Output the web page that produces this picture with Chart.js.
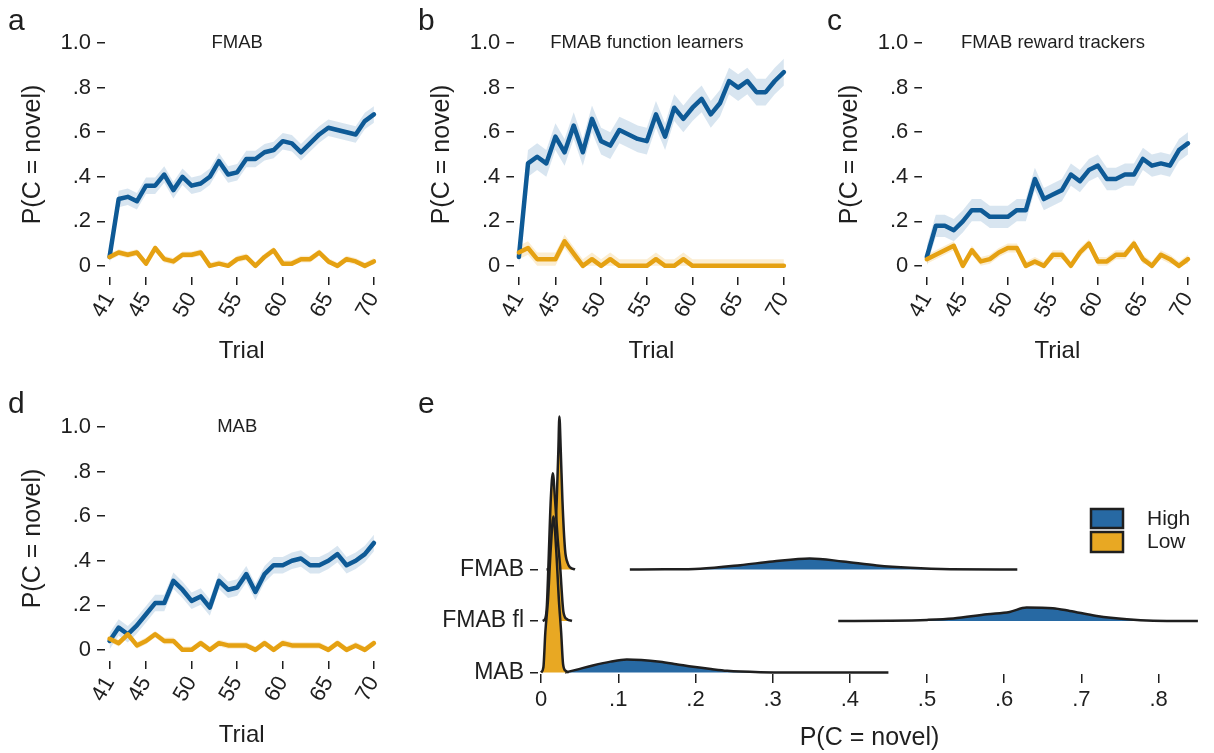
<!DOCTYPE html>
<html>
<head>
<meta charset="utf-8">
<script src="https://cdn.jsdelivr.net/npm/chart.js@4.4.1/dist/chart.umd.min.js"></script>
<style>
  html, body { margin: 0; padding: 0; background: #fff; }
  body { width: 1214px; height: 753px; position: relative; overflow: hidden; }
  canvas { position: absolute; }
</style>
</head>
<body>
<canvas id="chartA" width="400" height="370" style="left:0;top:0"></canvas>
<canvas id="chartB" width="410" height="370" style="left:400px;top:0"></canvas>
<canvas id="chartC" width="404" height="370" style="left:810px;top:0"></canvas>
<canvas id="chartD" width="400" height="373" style="left:0;top:380px"></canvas>
<canvas id="chartE" width="804" height="373" style="left:410px;top:380px"></canvas>
<script>
// dados
const trials = [41, 42, 43, 44, 45, 46, 47, 48, 49, 50, 51, 52, 53, 54, 55,
                56, 57, 58, 59, 60, 61, 62, 63, 64, 65, 66, 67, 68, 69, 70];
const xTicks = [41, 45, 50, 55, 60, 65, 70];
const yTicks = [0, 0.2, 0.4, 0.6, 0.8, 1.0];
const yTickLabels = ['0', '.2', '.4', '.6', '.8', '1.0'];

// a: FMAB
const fmabHigh = [0.04, 0.30, 0.31, 0.29, 0.36, 0.36, 0.41, 0.34, 0.40, 0.36, 0.37, 0.40, 0.47, 0.41, 0.42,
                  0.48, 0.48, 0.51, 0.52, 0.56, 0.55, 0.51, 0.55, 0.59, 0.62, 0.61, 0.60, 0.59, 0.65, 0.68];
const fmabLow = [0.04, 0.06, 0.05, 0.06, 0.01, 0.08, 0.03, 0.02, 0.05, 0.05, 0.06, 0.00, 0.01, 0.00, 0.03,
                 0.04, 0.00, 0.04, 0.07, 0.01, 0.01, 0.03, 0.03, 0.06, 0.02, 0.00, 0.03, 0.02, 0.00, 0.02];
// b: FMAB function learners
const fflHigh = [0.04, 0.46, 0.49, 0.46, 0.58, 0.51, 0.63, 0.51, 0.66, 0.56, 0.54, 0.61, 0.59, 0.57, 0.56,
                 0.68, 0.58, 0.71, 0.66, 0.71, 0.75, 0.68, 0.73, 0.83, 0.80, 0.83, 0.78, 0.78, 0.83, 0.87];
const fflLow = [0.06, 0.08, 0.03, 0.03, 0.03, 0.11, 0.055, 0.00, 0.03, 0.00, 0.03, 0.00, 0.00, 0.00, 0.00,
                0.03, 0.00, 0.00, 0.03, 0.00, 0.00, 0.00, 0.00, 0.00, 0.00, 0.00, 0.00, 0.00, 0.00, 0.00];
// c: FMAB reward trackers
const rtHigh = [0.04, 0.18, 0.18, 0.16, 0.20, 0.25, 0.25, 0.22, 0.22, 0.22, 0.25, 0.25, 0.39, 0.30, 0.32,
                0.34, 0.41, 0.38, 0.43, 0.45, 0.39, 0.39, 0.41, 0.41, 0.48, 0.45, 0.46, 0.45, 0.52, 0.55];
const rtLow = [0.03, 0.05, 0.07, 0.09, 0.00, 0.07, 0.02, 0.03, 0.06, 0.08, 0.08, 0.00, 0.02, 0.00, 0.05,
               0.05, 0.00, 0.06, 0.10, 0.02, 0.02, 0.05, 0.05, 0.10, 0.03, 0.00, 0.05, 0.03, 0.00, 0.03];
// d: MAB
const mabHigh = [0.04, 0.10, 0.07, 0.11, 0.16, 0.21, 0.21, 0.31, 0.27, 0.22, 0.24, 0.19, 0.31, 0.27, 0.28,
                 0.34, 0.26, 0.34, 0.38, 0.38, 0.40, 0.41, 0.38, 0.38, 0.40, 0.43, 0.38, 0.40, 0.43, 0.48];
const mabLow = [0.05, 0.03, 0.07, 0.02, 0.04, 0.07, 0.04, 0.04, 0.00, 0.00, 0.03, 0.00, 0.03, 0.02, 0.02,
                0.02, 0.00, 0.03, 0.00, 0.03, 0.02, 0.02, 0.02, 0.02, 0.00, 0.03, 0.00, 0.02, 0.00, 0.03];

// meia largura da faixa de erro, por painel
const fmabHighCI = 0.037, fmabLowCI = 0.015;
const fflHighCI = 0.06, fflLowCI = 0.03;
const rtHighCI = 0.05, rtLowCI = 0.02;
const mabHighCI = 0.037, mabLowCI = 0.015;

// e: densidades (x = P(C = novel), altura relativa a linha)
const ridgeRows = [0, 1, 2];
const ridgeLabels = ['MAB', 'FMAB fl', 'FMAB'];
const eTicks = [0, 0.1, 0.2, 0.3, 0.4, 0.5, 0.6, 0.7, 0.8];
const eTickLabels = ['0', '.1', '.2', '.3', '.4', '.5', '.6', '.7', '.8'];

const fmabHighX = [0.115, 0.16, 0.206, 0.258, 0.300, 0.348, 0.391, 0.435, 0.478, 0.530, 0.617];
const fmabHighH = [0, 0.002, 0.014, 0.083, 0.155, 0.214, 0.155, 0.078, 0.033, 0.006, 0];
const fmabLowX = [0.007, 0.014, 0.017, 0.0203, 0.0224, 0.0237, 0.0255, 0.0276, 0.031, 0.0345, 0.0376, 0.044];
const fmabLowH = [0, 0.03, 0.3, 1.36, 2.33, 2.97, 2.3, 1.36, 0.39, 0.12, 0.04, 0];
const fflHighX = [0.385, 0.45, 0.50, 0.534, 0.578, 0.607, 0.629, 0.663, 0.685, 0.72, 0.759, 0.793, 0.851];
const fflHighH = [0, 0.005, 0.02, 0.047, 0.13, 0.175, 0.26, 0.247, 0.194, 0.097, 0.033, 0.006, 0];
const fflLowX = [0.002, 0.0055, 0.0075, 0.0095, 0.0126, 0.0152, 0.018, 0.0215, 0.0246, 0.029, 0.034, 0.040];
const fflLowH = [0, 0.05, 0.3, 1.07, 2.37, 2.87, 2.37, 1.6, 1.07, 0.17, 0.03, 0];
const mabHighX = [0.031, 0.045, 0.067, 0.09, 0.111, 0.13, 0.154, 0.175, 0.197, 0.22, 0.241, 0.284, 0.33, 0.45];
const mabHighH = [0, 0.05, 0.136, 0.21, 0.25, 0.24, 0.206, 0.16, 0.109, 0.065, 0.031, 0.006, 0.001, 0];
const mabLowX = [0.000, 0.003, 0.0055, 0.009, 0.0125, 0.016, 0.0195, 0.023, 0.026, 0.0285, 0.032, 0.036];
const mabLowH = [0, 0.1, 0.78, 1.42, 2.4, 3.03, 2.4, 1.42, 0.78, 0.16, 0.03, 0];

// estilos
const FONT = "'Liberation Sans', Arial, Helvetica, sans-serif";
const INK = '#1f1f1f';
const BLUE = '#0e5a96';
const YELLOW = '#e5a112';
const BLUE_BAND = 'rgba(40,110,170,0.18)';
const YELLOW_BAND = 'rgba(235,165,25,0.2)';
const BLUE_FILL = '#2769a3';
const YELLOW_FILL = '#e8a823';

// letra do painel + titulo dentro do grafico
const panelText = {
    id: 'panelText',
    afterDraw(chart, args, opts) {
        const ctx = chart.ctx;
        ctx.save();
        ctx.fillStyle = INK;
        ctx.font = `30px ${FONT}`;
        ctx.textAlign = 'left';
        ctx.textBaseline = 'alphabetic';
        ctx.fillText(opts.letter, opts.letterX, opts.letterY);
        if (opts.title) {
            const a = chart.chartArea;
            ctx.font = `18.5px ${FONT}`;
            ctx.textAlign = 'center';
            ctx.textBaseline = 'middle';
            ctx.fillText(opts.title, (a.left + a.right) / 2 - 4.5, chart.scales.y.getPixelForValue(1.0));
        }
        ctx.restore();
    }
};

function trendPanel(id, box, letter, title, high, low, highCI, lowCI) {
    const pts = (arr, d) => arr.map((v, i) => ({ x: trials[i], y: Math.max(0, v + d) }));
    new Chart(document.getElementById(id), {
        type: 'line',
        data: {
            datasets: [
                { label: 'Low', data: pts(low, 0), borderColor: YELLOW, borderWidth: 4.5, order: 0 },
                { label: 'High', data: pts(high, 0), borderColor: BLUE, borderWidth: 4.5, order: 1 },
                { data: pts(high, -highCI), borderWidth: 0, order: 2 },
                { data: pts(high, highCI), borderWidth: 0, order: 2, fill: '-1', backgroundColor: BLUE_BAND },
                { data: pts(low, -lowCI), borderWidth: 0, order: 3 },
                { data: pts(low, lowCI), borderWidth: 0, order: 3, fill: '-1', backgroundColor: YELLOW_BAND }
            ]
        },
        options: {
            responsive: false,
            animation: false,
            layout: { padding: { left: 0, right: box.right, top: box.top, bottom: 0 } },
            elements: {
                point: { radius: 0 },
                line: { tension: 0, borderJoinStyle: 'round', borderCapStyle: 'round', fill: false }
            },
            plugins: {
                legend: { display: false },
                tooltip: { enabled: false },
                panelText: { letter, title, letterX: box.lx, letterY: box.ly }
            },
            scales: {
                x: {
                    type: 'linear', min: 40.5, max: 70.5,
                    afterBuildTicks: s => { s.ticks = xTicks.map(v => ({ value: v })); },
                    afterFit: s => { s.height = box.xh; },
                    grid: { drawOnChartArea: false, drawTicks: true, tickLength: 8, color: INK, lineWidth: 1.5 },
                    border: { display: false },
                    ticks: { autoSkip: false, minRotation: 60, maxRotation: 60, padding: 3, color: INK,
                             font: { family: FONT, size: 22 } },
                    title: { display: true, text: 'Trial', color: INK, font: { family: FONT, size: 24 },
                             padding: { top: 0, bottom: box.tb } }
                },
                y: {
                    min: -0.05, max: 1.05,
                    afterBuildTicks: s => { s.ticks = yTicks.map(v => ({ value: v })); },
                    afterFit: s => { s.width = box.yw; },
                    grid: { drawOnChartArea: false, drawTicks: true, tickLength: 8, color: INK, lineWidth: 1.5 },
                    border: { display: false },
                    ticks: { padding: 6, color: INK, font: { family: FONT, size: 22 },
                             callback: v => yTickLabels[yTicks.indexOf(v)] },
                    title: { display: true, text: 'P(C = novel)', color: INK, font: { family: FONT, size: 25 },
                             padding: { top: box.tp, bottom: 0 } }
                }
            }
        },
        plugins: [panelText]
    });
}

trendPanel('chartA', { yw: 105, right: 13, top: 32, xh: 93, tb: 4, tp: 18, lx: 8, ly: 30 },
    'a', 'FMAB', fmabHigh, fmabLow, fmabHighCI, fmabLowCI);
trendPanel('chartB', { yw: 114.3, right: 15.3, top: 32, xh: 93, tb: 4, tp: 27, lx: 18, ly: 30 },
    'b', 'FMAB function learners', fflHigh, fflLow, fflHighCI, fflLowCI);
trendPanel('chartC', { yw: 112.3, right: 10.3, top: 32, xh: 93, tb: 4, tp: 25, lx: 17, ly: 30 },
    'c', 'FMAB reward trackers', rtHigh, rtLow, rtHighCI, rtLowCI);
trendPanel('chartD', { yw: 105, right: 13, top: 36, xh: 92, tb: 3, tp: 18, lx: 8, ly: 33 },
    'd', 'MAB', mabHigh, mabLow, mabHighCI, mabLowCI);

// painel e: ridgeline
const ridgeLegend = {
    id: 'ridgeLegend',
    afterDraw(chart) {
        const ctx = chart.ctx;
        ctx.save();
        ctx.lineWidth = 2.5;
        ctx.strokeStyle = INK;
        ctx.fillStyle = BLUE_FILL;
        ctx.fillRect(681, 129, 32, 19);
        ctx.strokeRect(681, 129, 32, 19);
        ctx.fillStyle = YELLOW_FILL;
        ctx.fillRect(681, 152, 32, 20);
        ctx.strokeRect(681, 152, 32, 20);
        ctx.fillStyle = INK;
        ctx.font = `21px ${FONT}`;
        ctx.textAlign = 'left';
        ctx.textBaseline = 'middle';
        ctx.fillText('High', 737, 139);
        ctx.fillText('Low', 737, 162);
        ctx.restore();
    }
};

function ridge(xs, hs, row, color, order) {
    return {
        data: xs.map((x, i) => ({ x, y: row + hs[i] })),
        fill: { value: row },
        backgroundColor: color,
        borderColor: INK,
        borderWidth: 2.5,
        cubicInterpolationMode: 'monotone',
        clip: false,
        order
    };
}

new Chart(document.getElementById('chartE'), {
    type: 'line',
    data: {
        datasets: [
            ridge(mabLowX, mabLowH, ridgeRows[0], YELLOW_FILL, 1),
            ridge(mabHighX, mabHighH, ridgeRows[0], BLUE_FILL, 1),
            ridge(fflLowX, fflLowH, ridgeRows[1], YELLOW_FILL, 2),
            ridge(fflHighX, fflHighH, ridgeRows[1], BLUE_FILL, 2),
            ridge(fmabLowX, fmabLowH, ridgeRows[2], YELLOW_FILL, 3),
            ridge(fmabHighX, fmabHighH, ridgeRows[2], BLUE_FILL, 3)
        ]
    },
    options: {
        responsive: false,
        animation: false,
        layout: { padding: { left: 0, right: 13, top: 20, bottom: 0 } },
        elements: { point: { radius: 0 }, line: { borderJoinStyle: 'round' } },
        plugins: {
            legend: { display: false },
            tooltip: { enabled: false },
            panelText: { letter: 'e', title: null, letterX: 8, letterY: 33 }
        },
        scales: {
            x: {
                type: 'linear', min: -0.004, max: 0.855,
                afterBuildTicks: s => { s.ticks = eTicks.map(v => ({ value: v })); },
                afterFit: s => { s.height = 79; },
                grid: { drawOnChartArea: false, drawTicks: true, tickLength: 9, color: INK, lineWidth: 1.5 },
                border: { display: false },
                ticks: { autoSkip: false, maxRotation: 0, padding: 4, color: INK,
                         font: { family: FONT, size: 22 },
                         callback: v => eTickLabels[eTicks.indexOf(v)] },
                title: { display: true, text: 'P(C = novel)', color: INK, font: { family: FONT, size: 25 },
                         padding: { top: 0, bottom: 0 } }
            },
            y: {
                min: -0.03, max: 5.29,
                afterBuildTicks: s => { s.ticks = ridgeRows.map(v => ({ value: v })); },
                afterFit: s => { s.width = 128; },
                grid: { drawOnChartArea: false, drawTicks: true, tickLength: 8, color: INK, lineWidth: 1.5 },
                border: { display: false },
                ticks: { padding: 6, color: INK, font: { family: FONT, size: 23 },
                         callback: v => ridgeLabels[ridgeRows.indexOf(v)] }
            }
        }
    },
    plugins: [panelText, ridgeLegend]
});
</script>
</body>
</html>
